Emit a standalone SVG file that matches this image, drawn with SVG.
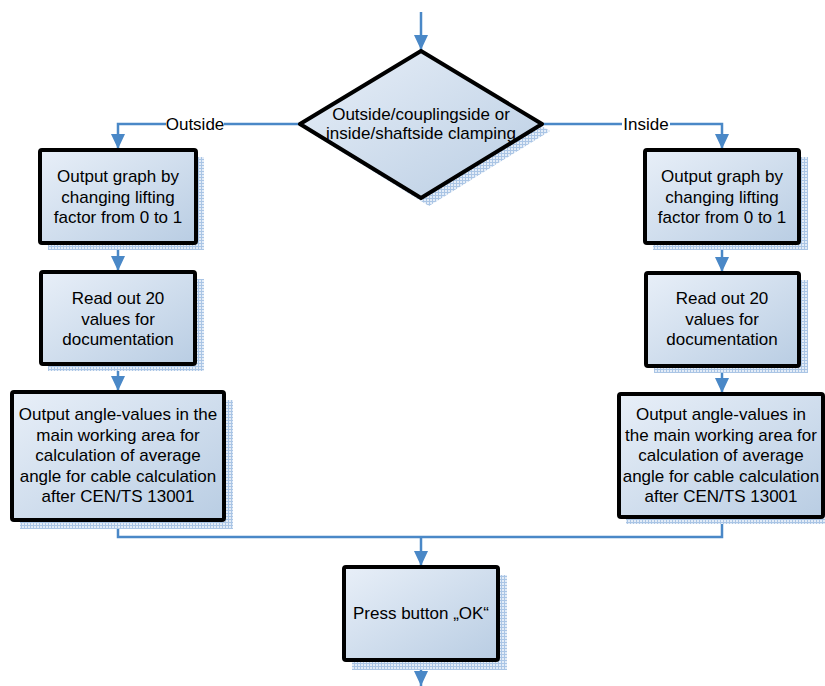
<svg xmlns="http://www.w3.org/2000/svg" width="825" height="686" viewBox="0 0 825 686">
<defs>
<linearGradient id="g" x1="0" y1="0" x2="1" y2="1">
<stop offset="0" stop-color="#e8eff8"/>
<stop offset="1" stop-color="#b9cde3"/>
</linearGradient>
<pattern id="hatch" width="3" height="3" patternUnits="userSpaceOnUse">
<rect width="3" height="3" fill="#e3ecf7"/>
<path d="M0 0.5H3M0.5 0V3" stroke="#aac5e5" stroke-width="1"/>
</pattern>
<marker id="arr" markerWidth="16" markerHeight="14" refX="15" refY="7" orient="auto" markerUnits="userSpaceOnUse">
<path d="M0 0L15 7L0 14Z" fill="#4a88c7"/>
</marker>
<style>
.box{fill:url(#g);stroke:#000;stroke-width:4;stroke-linejoin:round}
.sh{fill:url(#hatch);stroke:none}
.t{font-family:"Liberation Sans",Arial,sans-serif;font-size:17px;fill:#000;text-anchor:middle}
.c{fill:none;stroke:#4a88c7;stroke-width:2.5}
.lb{font-family:"Liberation Sans",Arial,sans-serif;font-size:17px;fill:#000;text-anchor:middle}
</style>
</defs>
<g id="connectors">
<path class="c" d="M421 12V50" marker-end="url(#arr)"/>
<path class="c" d="M300 124H118V149" marker-end="url(#arr)"/>
<path class="c" d="M542 124H722V149" marker-end="url(#arr)"/>
<path class="c" d="M118 243V271" marker-end="url(#arr)"/>
<path class="c" d="M722 243V272" marker-end="url(#arr)"/>
<path class="c" d="M118 364V391" marker-end="url(#arr)"/>
<path class="c" d="M722 365V393" marker-end="url(#arr)"/>
<path class="c" d="M118 520V537H722V517"/>
<path class="c" d="M421 537V566" marker-end="url(#arr)"/>
<path class="c" d="M421 660V686" marker-end="url(#arr)"/>
<rect x="166" y="114" width="58" height="20" fill="#fff"/>
<text class="lb" x="195" y="130">Outside</text>
<rect x="622" y="114" width="48" height="20" fill="#fff"/>
<text class="lb" x="646" y="130">Inside</text>
</g>
<g id="decision">
<path class="sh" d="M429 58L550 131L429 206L308 131Z"/>
<path class="box" d="M421 51L542 124L421 198L300 124Z"/>
<text class="t" x="421" y="120">Outside/couplingside or</text>
<text class="t" x="421" y="139">inside/shaftside clamping</text>
</g>
<g id="left1">
<rect class="sh" x="48" y="157" width="156" height="93"/>
<rect class="box" x="40" y="150" width="156" height="93" rx="2"/>
<text class="t" x="118" y="182">Output graph by</text>
<text class="t" x="118" y="202.5">changing lifting</text>
<text class="t" x="118" y="223">factor from 0 to 1</text>
</g>
<g id="left2">
<rect class="sh" x="48" y="279" width="156" height="92"/>
<rect class="box" x="41" y="272" width="154" height="92" rx="2"/>
<text class="t" x="118" y="304">Read out 20</text>
<text class="t" x="118" y="324.5">values for</text>
<text class="t" x="118" y="345">documentation</text>
</g>
<g id="left3">
<rect class="sh" x="20" y="400" width="213" height="129"/>
<rect class="box" x="12" y="392" width="212" height="128" rx="2"/>
<text class="t" x="118" y="420">Output angle-values in the</text>
<text class="t" x="118" y="440.5">main working area for</text>
<text class="t" x="118" y="461">calculation of average</text>
<text class="t" x="118" y="481.5">angle for cable calculation</text>
<text class="t" x="118" y="502">after CEN/TS 13001</text>
</g>
<g id="right1">
<rect class="sh" x="653" y="157" width="155" height="93"/>
<rect class="box" x="645" y="150" width="154" height="93" rx="2"/>
<text class="t" x="722" y="182">Output graph by</text>
<text class="t" x="722" y="202.5">changing lifting</text>
<text class="t" x="722" y="223">factor from 0 to 1</text>
</g>
<g id="right2">
<rect class="sh" x="654" y="280" width="154" height="93"/>
<rect class="box" x="646" y="273" width="153" height="93" rx="2"/>
<text class="t" x="722" y="304">Read out 20</text>
<text class="t" x="722" y="324.5">values for</text>
<text class="t" x="722" y="345">documentation</text>
</g>
<g id="right3">
<rect class="sh" x="626" y="401" width="199" height="123"/>
<rect class="box" x="619" y="394" width="204" height="123" rx="2"/>
<text class="t" x="721" y="420">Output angle-values in</text>
<text class="t" x="721" y="440.5">the main working area for</text>
<text class="t" x="721" y="461">calculation of average</text>
<text class="t" x="721" y="481.5">angle for cable calculation</text>
<text class="t" x="721" y="502">after CEN/TS 13001</text>
</g>
<g id="ok">
<rect class="sh" x="352" y="575" width="155" height="95"/>
<rect class="box" x="344" y="567" width="154" height="93" rx="2"/>
<text class="t" x="421" y="619">Press button „OK“</text>
</g>
</svg>
